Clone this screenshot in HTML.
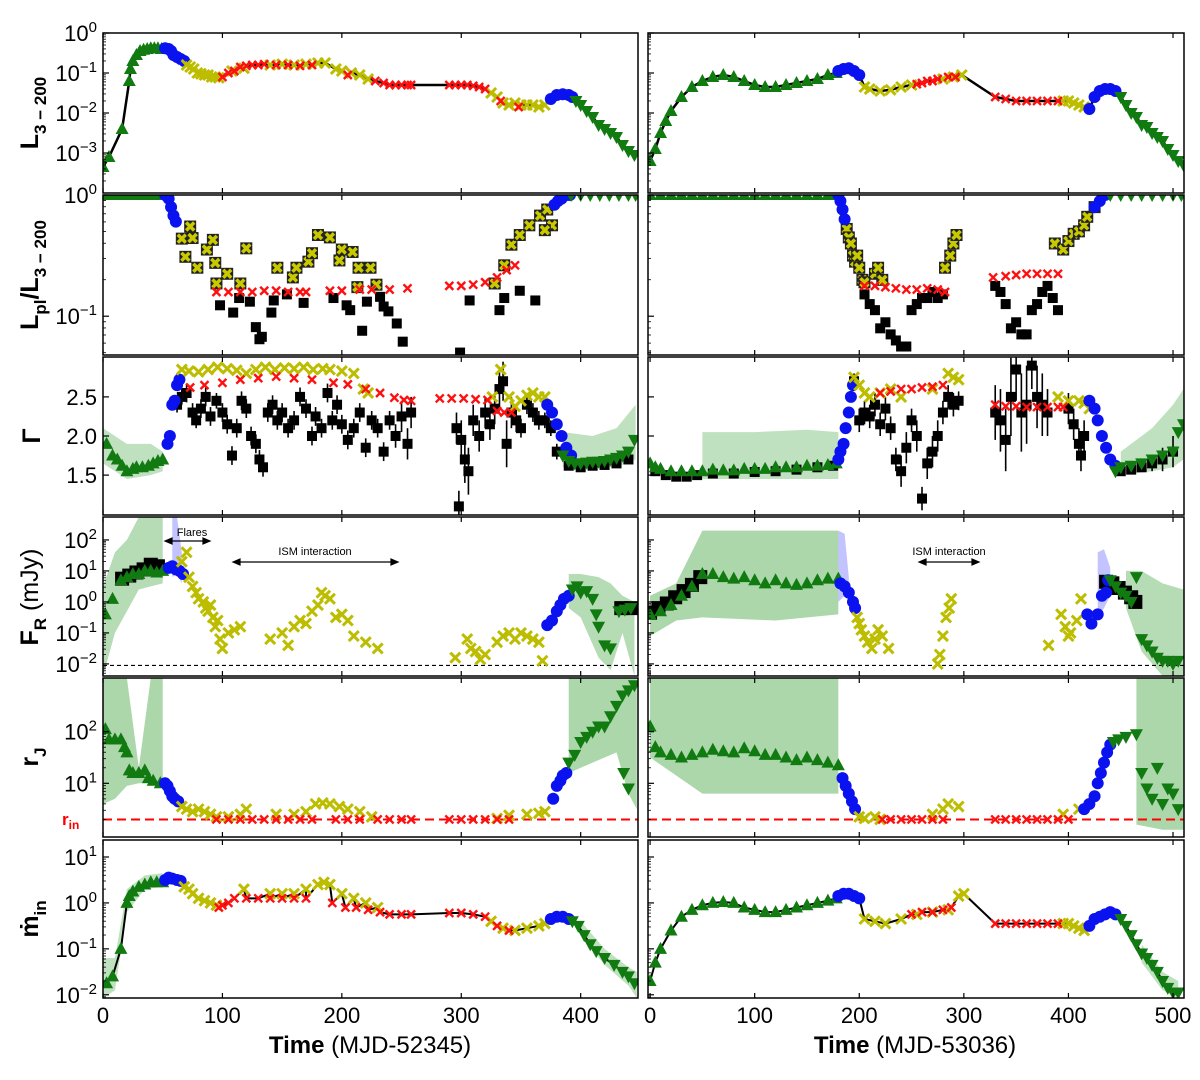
<!DOCTYPE html>
<html><head><meta charset="utf-8"><style>
html,body{margin:0;padding:0;background:#fff}
svg{display:block;font-family:"Liberation Sans",sans-serif}
</style></head><body>
<svg id="fig" width="1200" height="1080" viewBox="0 0 1200 1080" xmlns="http://www.w3.org/2000/svg"></svg>
<script>
// ===== DATA (t in days, log panels store log10 values) =====
const L1g=[[0,-3.35],[5,-3.1],[16,-2.4],[22,-1.2],[23,-0.9],[25,-0.7],[28,-0.55],[31,-0.45],[34,-0.42],[37,-0.4],[40,-0.38],[43,-0.38],[46,-0.38],[49,-0.4]];
const L1b=[[52,-0.38],[55,-0.4],[57,-0.45],[59,-0.55],[62,-0.6],[65,-0.65],[68,-0.7]];
const L1y=[[70,-0.8],[73,-0.85],[76,-0.9],[79,-1.0],[82,-1.02],[85,-1.05],[88,-1.05],[91,-1.1],[94,-1.1],[97,-1.12],[108,-0.95],[118,-0.88],[140,-0.8],[150,-0.78],[160,-0.8],[170,-0.78],[180,-0.75],[186,-0.75],[195,-0.9],[200,-0.95],[208,-1.0],[215,-1.05],[222,-1.15],[325,-1.5],[330,-1.6],[335,-1.75],[340,-1.8],[345,-1.75],[350,-1.8],[355,-1.8],[360,-1.8],[365,-1.85],[370,-1.8]];
const L1r=[[100,-1.1],[105,-1.0],[110,-0.95],[115,-0.85],[120,-0.82],[125,-0.8],[130,-0.8],[135,-0.78],[145,-0.8],[155,-0.8],[165,-0.82],[175,-0.8],[205,-1.05],[228,-1.2],[235,-1.25],[240,-1.3],[245,-1.3],[250,-1.3],[255,-1.3],[258,-1.3],[290,-1.3],[295,-1.3],[300,-1.3],[305,-1.3],[310,-1.32],[315,-1.35],[320,-1.4],[333,-1.7],[348,-1.85]];
const L1b2=[[375,-1.65],[380,-1.55],[385,-1.53],[390,-1.55],[393,-1.6]];
const L1d=[[396,-1.7],[400,-1.8],[405,-1.95],[410,-2.1],[415,-2.3],[420,-2.4],[425,-2.5],[430,-2.6],[435,-2.8],[440,-2.95],[445,-3.05]];

const L2g=[[2,0],[8,0],[14,0],[20,0],[26,0],[32,0],[38,0],[44,0],[50,0]];
const L2b=[[52,0],[55,-0.03],[57,-0.1],[59,-0.17],[61,-0.22]];
const L2y=[[73,-0.26],[66,-0.36],[75,-0.355],[69,-0.51],[79,-0.6],[87,-0.45],[92,-0.37],[94,-0.56],[95,-0.73],[104,-0.65],[115,-0.73],[120,-0.44],[146,-0.6],[159,-0.68],[162,-0.6],[172,-0.55],[175,-0.48],[180,-0.33],[190,-0.35],[198,-0.54],[200,-0.45],[209,-0.47],[214,-0.6],[224,-0.6],[213,-0.76],[229,-0.74],[328,-0.73],[336,-0.58],[342,-0.41],[349,-0.33],[357,-0.25],[366,-0.17],[372,-0.12],[376,-0.25],[370,-0.29]];
const L2k=[[98,-0.91],[109,-0.97],[114,-0.85],[123,-0.88],[128,-1.09],[133,-1.17],[131,-1.19],[141,-0.97],[143,-0.87],[154,-0.82],[168,-0.89],[193,-0.85],[204,-0.91],[207,-0.95],[217,-1.12],[221,-0.88],[232,-0.84],[235,-0.92],[239,-0.96],[246,-1.06],[251,-1.21],[299,-1.3],[307,-0.87],[332,-0.95],[336,-0.85],[349,-0.79],[362,-0.87]];
const L2r=[[95,-0.8],[105,-0.8],[115,-0.8],[125,-0.8],[135,-0.79],[145,-0.79],[155,-0.8],[165,-0.8],[170,-0.8],[190,-0.79],[200,-0.79],[215,-0.78],[225,-0.78],[240,-0.78],[255,-0.77],[290,-0.75],[300,-0.75],[310,-0.74],[320,-0.72],[330,-0.68],[338,-0.62],[345,-0.58]];
const L2b2=[[378,-0.08],[381,-0.05],[384,-0.03],[388,0],[391,0]];
const L2d=[[392,0],[400,0],[408,0],[416,0],[424,0],[432,0],[440,0],[446,0]];

const L3g=[[3,1.9],[8,1.75],[12,1.7],[16,1.62],[20,1.55],[25,1.58],[28,1.6],[33,1.6],[38,1.62],[42,1.65],[46,1.68],[50,1.7]];
const L3b=[[54,1.9],[56,2.0],[58,2.4],[60,2.45],[62,2.65],[64,2.72]];
const L3y=[[66,2.85],[72,2.83],[80,2.82],[88,2.85],[96,2.88],[104,2.86],[112,2.84],[120,2.8],[128,2.85],[136,2.88],[144,2.85],[152,2.87],[160,2.86],[168,2.88],[176,2.85],[184,2.86],[190,2.85],[200,2.83],[210,2.8],[218,2.6],[222,2.55],[326,2.5],[333,2.85],[340,2.5],[345,2.38],[350,2.45],[355,2.52],[360,2.55],[365,2.5],[370,2.5]];
const L3r=[[73,2.62],[85,2.65],[100,2.68],[115,2.72],[130,2.74],[145,2.76],[160,2.74],[175,2.72],[193,2.68],[205,2.66],[220,2.6],[232,2.55],[244,2.49],[252,2.46],[258,2.45],[282,2.48],[292,2.48],[302,2.48],[312,2.47],[322,2.46],[330,2.32],[336,2.3],[342,2.3]];
const L3k=[[62,2.4,0.1],[66,2.5,0.1],[70,2.55,0.12],[75,2.3,0.12],[78,2.2,0.1],[82,2.35,0.12],[86,2.5,0.12],[90,2.25,0.12],[95,2.45,0.1],[100,2.3,0.12],[104,2.15,0.12],[108,1.75,0.12],[112,2.1,0.12],[116,2.45,0.12],[120,2.35,0.12],[124,2.0,0.12],[128,1.9,0.12],[131,1.7,0.12],[134,1.6,0.12],[138,2.3,0.12],[142,2.4,0.12],[146,2.2,0.12],[150,2.3,0.12],[155,2.1,0.12],[160,2.2,0.12],[165,2.5,0.12],[170,2.35,0.12],[175,2.0,0.12],[178,2.25,0.12],[183,2.1,0.12],[188,2.55,0.12],[192,2.2,0.12],[196,2.4,0.12],[200,2.15,0.12],[205,1.95,0.12],[210,2.1,0.12],[215,2.3,0.12],[220,1.85,0.12],[225,2.2,0.12],[230,2.1,0.12],[235,1.8,0.12],[240,2.2,0.12],[245,2.0,0.15],[250,2.25,0.2],[255,1.9,0.2],[258,2.3,0.2],[296,2.1,0.2],[298,1.1,0.2],[300,1.95,0.25],[303,1.7,0.3],[306,1.55,0.3],[310,2.2,0.2],[315,2.0,0.2],[320,2.3,0.2],[324,2.15,0.2],[328,2.35,0.2],[332,2.6,0.25],[335,2.7,0.25],[338,1.9,0.3],[342,2.3,0.2],[346,2.2,0.15],[350,2.1,0.12],[355,2.4,0.12],[360,2.3,0.12],[365,2.2,0.12],[370,2.2,0.1],[375,2.1,0.1],[380,1.8,0.1],[390,1.62,0.05],[400,1.6,0.05],[410,1.62,0.05],[420,1.63,0.05],[430,1.65,0.05],[440,1.7,0.05]];
const L3b2=[[372,2.4],[376,2.3],[380,2.15],[384,2.0],[388,1.85],[392,1.75]];
const L3d=[[385,1.75],[390,1.68],[395,1.65],[400,1.65],[405,1.66],[410,1.67],[415,1.67],[420,1.68],[425,1.7],[430,1.72],[435,1.75],[440,1.8],[445,1.95]];

const L4g=[[2,-0.4],[8,0.1],[15,0.7],[20,0.8],[25,0.9],[30,0.9],[35,1.0],[40,1.0],[45,0.95],[50,1.0]];
const L4k=[[16,0.75],[22,0.85],[28,0.95],[34,1.05],[40,1.2],[46,1.15]];
const L4b=[[55,1.1],[58,1.15],[61,1.05],[64,1.0],[67,0.9]];
const L4y=[[66,1.3],[70,1.6],[72,0.8],[75,0.5],[78,0.3],[80,0.1],[84,0.0],[86,-0.2],[88,-0.3],[90,-0.1],[92,-0.5],[94,-0.8],[96,-0.6],[98,-1.2],[100,-1.5],[105,-1.0],[110,-0.9],[115,-0.8],[140,-1.2],[150,-1.0],[155,-1.4],[160,-0.8],[165,-0.6],[170,-0.7],[175,-0.3],[180,-0.1],[183,0.3],[186,0.2],[190,0.1],[195,-0.5],[200,-0.4],[205,-0.6],[210,-1.1],[220,-1.3],[230,-1.5],[295,-1.8],[305,-1.2],[308,-1.5],[312,-1.6],[316,-1.85],[320,-1.7],[330,-1.3],[335,-1.1],[340,-1.0],[345,-1.2],[350,-1.0],[355,-1.1],[360,-1.2],[365,-1.3],[368,-1.9]];
const L4b2=[[372,-0.75],[376,-0.6],[380,-0.3],[383,-0.1],[386,0.1],[390,0.2]];
const L4k2=[[434,-0.2],[442,-0.2]];
const L4d=[[393,0.4],[397,0.5],[400,0.3],[405,0.35],[410,0.1],[413,-0.4],[415,-0.8],[420,-1.4],[425,-1.5],[432,-0.3],[437,-0.25],[442,-0.2]];

const L5g=[[2,2.05],[5,1.85],[10,1.85],[15,1.85],[18,1.7],[20,1.6],[22,1.25],[25,1.2],[30,1.2],[35,1.25],[38,1.1],[42,1.05],[48,1.0]];
const L5b=[[52,1.0],[54,0.95],[56,0.85],[58,0.75],[60,0.7],[63,0.65]];
const L5y=[[66,0.55],[70,0.5],[75,0.45],[80,0.5],[85,0.45],[90,0.4],[95,0.35],[105,0.35],[115,0.4],[120,0.5],[145,0.4],[160,0.4],[170,0.45],[178,0.6],[184,0.62],[190,0.6],[198,0.55],[205,0.5],[215,0.45],[225,0.35],[330,0.32],[340,0.38],[355,0.4],[365,0.42],[370,0.45]];
const L5r=[[95,0.3],[105,0.3],[115,0.3],[125,0.3],[135,0.3],[145,0.3],[155,0.3],[165,0.3],[175,0.3],[195,0.3],[205,0.3],[215,0.3],[230,0.3],[240,0.3],[250,0.3],[258,0.3],[290,0.3],[300,0.3],[310,0.3],[320,0.3],[330,0.3],[340,0.3]];
const L5b2=[[377,0.7],[380,0.95],[383,1.05],[385,1.15],[388,1.2]];
const L5d=[[390,1.4],[395,1.55],[400,1.8],[405,1.9],[410,2.0],[415,2.1],[420,2.1],[425,2.3],[430,2.5],[435,2.7],[440,2.8],[445,2.9],[436,1.2],[440,0.9]];

const L6g=[[3,-1.75],[8,-1.6],[15,-1.0],[20,0.0],[22,0.15],[25,0.25],[30,0.35],[35,0.4],[40,0.45],[45,0.45],[50,0.45]];
const L6b=[[52,0.5],[55,0.55],[58,0.53],[62,0.5],[65,0.48]];
const L6y=[[68,0.35],[72,0.3],[75,0.2],[80,0.1],[85,0.05],[90,0.0],[95,-0.05],[118,0.3],[140,0.2],[150,0.2],[160,0.2],[170,0.3],[180,0.4],[185,0.45],[190,0.4],[200,0.2],[210,0.1],[220,0.0],[230,-0.1],[325,-0.4],[335,-0.55],[345,-0.6],[355,-0.55],[365,-0.5],[370,-0.45]];
const L6r=[[97,-0.1],[100,-0.05],[105,0.0],[110,0.1],[120,0.1],[130,0.1],[140,0.1],[150,0.1],[160,0.1],[170,0.1],[192,0.0],[203,-0.1],[212,-0.1],[222,-0.15],[232,-0.2],[240,-0.25],[250,-0.25],[258,-0.25],[290,-0.22],[300,-0.22],[310,-0.25],[320,-0.3],[330,-0.5],[340,-0.6]];
const L6b2=[[375,-0.35],[380,-0.3],[385,-0.3],[390,-0.35]];
const L6d=[[393,-0.4],[398,-0.5],[403,-0.7],[408,-0.9],[413,-1.05],[420,-1.2],[428,-1.35],[435,-1.5],[440,-1.6],[445,-1.75]];

const R1g=[[0,-3.2],[5,-2.9],[10,-2.5],[15,-2.2],[20,-1.95],[30,-1.6],[40,-1.35],[50,-1.2],[60,-1.1],[70,-1.05],[80,-1.1],[90,-1.2],[100,-1.3],[110,-1.35],[120,-1.35],[130,-1.3],[140,-1.25],[150,-1.2],[160,-1.15],[170,-1.05],[178,-1.0]];
const R1b=[[180,-0.95],[185,-0.9],[190,-0.88],[195,-0.95],[200,-1.05]];
const R1y=[[205,-1.35],[210,-1.4],[220,-1.45],[230,-1.42],[240,-1.35],[250,-1.3],[280,-1.15],[290,-1.1],[298,-1.05],[395,-1.7],[400,-1.7],[405,-1.75],[410,-1.8],[415,-1.85]];
const R1r=[[255,-1.28],[260,-1.25],[265,-1.2],[270,-1.2],[275,-1.15],[285,-1.1],[292,-1.1],[330,-1.6],[340,-1.65],[350,-1.7],[360,-1.7],[370,-1.7],[380,-1.7],[390,-1.7]];
const R1b2=[[420,-1.9],[425,-1.6],[430,-1.45],[435,-1.4],[440,-1.4],[445,-1.45]];
const R1d=[[450,-1.6],[455,-1.8],[460,-2.0],[465,-2.1],[470,-2.3],[475,-2.35],[480,-2.5],[485,-2.6],[490,-2.7],[495,-2.9],[500,-3.05],[505,-3.2],[510,-3.3]];

const R2g=[[0,0],[10,0],[20,0],[30,0],[40,0],[50,0],[60,0],[70,0],[80,0],[90,0],[100,0],[110,0],[120,0],[130,0],[140,0],[150,0],[160,0],[170,0],[178,0]];
const R2b=[[180,0],[182,-0.05],[184,-0.12],[186,-0.2]];
const R2y=[[188,-0.28],[190,-0.35],[192,-0.4],[194,-0.5],[196,-0.55],[198,-0.5],[200,-0.6],[203,-0.7],[205,-0.72],[215,-0.65],[218,-0.6],[222,-0.7],[282,-0.6],[287,-0.5],[290,-0.4],[293,-0.33],[387,-0.4],[395,-0.45],[400,-0.38],[405,-0.32],[410,-0.3],[415,-0.25],[418,-0.18],[425,-0.1]];
const R2k=[[205,-0.82],[210,-0.9],[215,-0.95],[220,-1.1],[225,-1.05],[230,-1.15],[235,-1.2],[240,-1.25],[245,-1.25],[250,-0.95],[255,-0.9],[260,-0.85],[265,-0.85],[270,-0.8],[275,-0.85],[280,-0.82],[330,-0.75],[335,-0.8],[340,-0.9],[345,-1.1],[350,-1.05],[355,-1.15],[360,-1.15],[365,-0.95],[370,-0.9],[375,-0.8],[380,-0.75],[385,-0.85],[390,-0.95]];
const R2r=[[205,-0.75],[215,-0.75],[225,-0.76],[235,-0.77],[245,-0.78],[255,-0.78],[265,-0.77],[275,-0.78],[282,-0.8],[328,-0.68],[340,-0.67],[350,-0.66],[360,-0.65],[370,-0.65],[380,-0.65],[390,-0.65]];
const R2b2=[[425,-0.1],[430,-0.05],[435,0]];
const R2d=[[440,0],[450,0],[460,0],[470,0],[480,0],[490,0],[500,0],[508,0]];

const R3g=[[0,1.65],[5,1.6],[10,1.58],[20,1.55],[30,1.55],[40,1.55],[50,1.55],[60,1.57],[70,1.56],[80,1.56],[90,1.58],[100,1.58],[110,1.58],[120,1.6],[130,1.6],[140,1.6],[150,1.62],[160,1.62],[170,1.63],[178,1.65]];
const R3k0=[[5,1.55,0.03],[15,1.5,0.03],[25,1.48,0.03],[35,1.48,0.03],[45,1.5,0.03],[60,1.52,0.03],[80,1.52,0.03],[100,1.54,0.03],[120,1.55,0.03],[140,1.57,0.03],[160,1.6,0.03],[175,1.62,0.03]];
const R3b=[[180,1.7],[182,1.8],[185,1.9],[187,2.1],[190,2.3],[192,2.5],[194,2.65]];
const R3y=[[195,2.75],[200,2.65],[205,2.55],[210,2.5],[220,2.55],[230,2.6],[240,2.5],[270,2.6],[285,2.8],[290,2.75],[295,2.72],[390,2.5],[400,2.45],[410,2.45],[415,2.42],[420,2.35]];
const R3r=[[220,2.55],[230,2.57],[240,2.6],[250,2.6],[260,2.62],[270,2.63],[280,2.65],[330,2.4],[340,2.38],[350,2.38],[360,2.37],[370,2.37],[380,2.37],[390,2.37],[395,2.37]];
const R3k=[[195,2.7,0.1],[200,2.2,0.15],[205,2.3,0.15],[210,2.25,0.15],[215,2.4,0.15],[220,2.15,0.15],[225,2.35,0.15],[230,2.1,0.15],[235,1.7,0.15],[240,1.55,0.2],[245,1.85,0.2],[250,2.2,0.15],[255,2.0,0.2],[260,1.2,0.15],[265,1.65,0.2],[270,1.8,0.2],[275,2.0,0.2],[280,2.3,0.15],[285,2.5,0.15],[290,2.4,0.15],[295,2.45,0.12],[330,2.3,0.35],[335,2.2,0.4],[340,1.95,0.4],[345,2.5,0.5],[350,2.85,0.4],[355,2.3,0.5],[360,2.4,0.5],[365,2.9,0.3],[370,2.5,0.4],[375,2.4,0.4],[380,2.3,0.3],[400,2.35,0.2],[405,2.15,0.2],[410,1.9,0.2],[412,1.75,0.2],[415,2.0,0.2],[450,1.55,0.05],[460,1.57,0.05],[470,1.6,0.05],[480,1.65,0.1],[490,1.7,0.15],[500,1.8,0.2]];
const R3b2=[[420,2.45],[425,2.35],[428,2.2],[432,2.0],[436,1.85],[440,1.7],[445,1.62]];
const R3d=[[445,1.55],[450,1.6],[460,1.62],[470,1.65],[480,1.7],[490,1.75],[500,1.8],[505,2.05],[510,2.15]];

const R4g=[[0,-0.4],[10,-0.3],[20,-0.1],[30,0.2],[40,0.5],[50,0.9],[60,0.9],[70,0.8],[80,0.75],[90,0.8],[100,0.7],[110,0.6],[120,0.7],[130,0.6],[140,0.55],[150,0.6],[160,0.7],[170,0.75],[180,0.75]];
const R4k=[[0,-0.35],[8,-0.2],[16,-0.05],[24,0.15],[32,0.35],[40,0.55],[48,0.8]];
const R4b=[[182,0.6],[186,0.5],[190,0.3],[194,0.0],[196,-0.2]];
const R4y=[[198,-0.5],[200,-0.7],[202,-0.9],[205,-1.1],[208,-1.3],[212,-1.5],[215,-1.2],[218,-0.9],[222,-1.1],[228,-1.5],[275,-2.0],[277,-1.7],[280,-1.1],[283,-0.5],[286,-0.2],[288,0.1],[381,-1.4],[393,-0.4],[397,-0.8],[400,-1.1],[402,-1.0],[408,-0.6],[412,0.1]];
const R4b2=[[418,-0.4],[422,-0.7],[428,-0.4],[432,0.2],[436,0.3],[438,0.7]];
const R4k2=[[436,0.65],[442,0.6],[448,0.45],[454,0.3],[460,0.15],[464,0.0]];
const R4d=[[440,0.7],[445,0.5],[450,0.3],[455,0.2],[460,0.0],[465,0.8],[470,-1.2],[475,-1.4],[480,-1.6],[485,-1.8],[490,-1.9],[495,-1.9],[500,-2.0],[505,-1.9]];

const R5g=[[0,2.1],[5,1.7],[10,1.6],[20,1.55],[30,1.5],[40,1.55],[50,1.6],[60,1.65],[70,1.62],[80,1.6],[90,1.68],[100,1.62],[110,1.55],[120,1.55],[130,1.5],[140,1.45],[150,1.5],[160,1.45],[170,1.4],[180,1.35]];
const R5b=[[184,1.1],[187,0.95],[190,0.8],[193,0.65],[196,0.5]];
const R5y=[[200,0.35],[205,0.32],[215,0.35],[220,0.3],[270,0.4],[280,0.5],[285,0.6],[295,0.55],[395,0.4],[410,0.5]];
const R5r=[[222,0.3],[230,0.3],[240,0.3],[250,0.3],[260,0.3],[270,0.3],[280,0.3],[330,0.3],[340,0.3],[350,0.3],[360,0.3],[370,0.3],[380,0.3],[390,0.3],[400,0.3]];
const R5b2=[[415,0.5],[420,0.6],[425,0.75],[428,1.0],[431,1.2],[434,1.4],[437,1.6],[440,1.75]];
const R5d=[[443,1.8],[448,1.85],[455,1.9],[465,1.95],[470,1.2],[475,0.9],[480,0.7],[485,1.3],[490,0.6],[495,0.9],[500,0.8],[505,0.5]];

const R6g=[[0,-1.7],[5,-1.3],[10,-1.0],[20,-0.6],[30,-0.3],[40,-0.15],[50,-0.05],[60,0.0],[70,0.02],[80,0.0],[90,-0.1],[100,-0.15],[110,-0.2],[120,-0.2],[130,-0.15],[140,-0.1],[150,-0.05],[160,0.0],[170,0.05],[178,0.1]];
const R6b=[[180,0.15],[185,0.2],[190,0.2],[195,0.15],[200,0.1]];
const R6y=[[205,-0.35],[215,-0.4],[225,-0.45],[240,-0.35],[255,-0.25],[270,-0.2],[285,-0.15],[295,0.15],[300,0.2],[395,-0.45],[400,-0.45],[405,-0.5],[410,-0.55],[415,-0.6]];
const R6r=[[250,-0.25],[260,-0.2],[270,-0.2],[280,-0.15],[288,-0.1],[330,-0.45],[340,-0.45],[350,-0.45],[360,-0.45],[370,-0.45],[380,-0.45],[390,-0.45]];
const R6b2=[[420,-0.5],[425,-0.35],[430,-0.3],[435,-0.25],[440,-0.2],[445,-0.25]];
const R6d=[[450,-0.35],[455,-0.5],[460,-0.7],[465,-0.9],[470,-1.1],[475,-1.2],[480,-1.35],[485,-1.5],[490,-1.7],[495,-1.85],[500,-1.95],[505,-1.95]];

const bandL4a=[[0,-2.4,0.5],[10,-1.0,1.6],[20,-0.3,2.0],[30,0.4,2.74],[40,0.5,2.74],[50,0.6,2.74]];
const bandL4b=[[390,-0.2,0.9],[400,-0.5,0.9],[415,-1.8,0.8],[425,-2.2,0.6],[435,-1.0,0.2],[445,-2.39,0.0]];
const bandL4c=[[58,0.8,2.74],[62,0.9,2.74],[66,0.6,1.6]];
const bandL5a=[[0,0.6,3.04],[10,0.7,3.04],[20,0.95,3.04],[30,1.0,1.3],[40,1.0,3.04],[50,1.0,3.04]];
const bandL5b=[[390,1.2,3.04],[410,1.4,3.04],[430,1.6,3.04],[440,0.8,3.04],[447,0.5,3.04]];
const bandL3a=[[0,1.65,2.1],[20,1.45,1.9],[40,1.5,1.9],[50,1.55,1.8]];
const bandL3b=[[385,1.6,2.05],[410,1.6,2.0],[430,1.6,2.1],[446,1.7,2.4]];
const bandL6a=[[0,-2.07,-1.2],[10,-1.9,-1.2],[20,-0.2,0.3],[35,0.3,0.6],[50,0.35,0.65]];
const bandL6b=[[400,-0.7,-0.4],[420,-1.35,-1.0],[440,-1.8,-1.4],[447,-2.07,-1.5]];
const bandR3=[[50,1.45,2.05],[100,1.45,2.05],[150,1.45,2.08],[180,1.45,2.05]];
const bandR3b=[[450,1.5,1.8],[480,1.55,2.1],[500,1.6,2.4],[510,1.7,2.6]];
const bandR4a=[[0,-1.1,0.2],[25,-0.6,0.6],[50,-0.5,2.3],[120,-0.6,2.3],[180,-0.4,2.3]];
const bandR4b=[[455,-0.2,1.0],[470,-1.6,1.0],[490,-2.39,0.6],[510,-2.39,0.4]];
const bandR4c=[[180,0.0,2.3],[186,0.2,2.2],[190,0.4,0.8]];
const bandR4d=[[428,-0.5,1.6],[434,-0.2,1.7],[440,0.2,1.1]];
const bandR5a=[[0,1.5,3.04],[50,0.8,3.04],[120,0.8,3.04],[180,0.8,3.04]];
const bandR5b=[[465,0.2,3.04],[490,0.1,3.04],[510,0.1,3.04]];
const bandR6=[[470,-1.3,-0.9],[490,-1.9,-1.5],[505,-2.07,-1.7]];

const xTicks=[0,100,200,300,400,500];
const rows=[
 {top:33,bot:193,d0:-4,d1:0,log:true},
 {top:195,bot:355,d0:-1.32,d1:0,log:true},
 {top:357,bot:515,d0:0.99,d1:3.01,log:false},
 {top:517,bot:676,d0:-2.39,d1:2.74,log:true},
 {top:678,bot:837,d0:-0.04,d1:3.04,log:true},
 {top:840,bot:998,d0:-2.07,d1:1.37,log:true}];
const cols=[{x0:103,x1:638,t0:0,t1:448},{x0:648,x1:1184,t0:-2,t1:510.5}];
const yTickSets=[[0,-1,-2,-3],[0,-1],[1.5,2.0,2.5],[2,1,0,-1,-2],[2,1],[1,0,-1,-2]];

const NS="http://www.w3.org/2000/svg";
const svg=document.getElementById('fig');
function mk(tag,attrs,parent){const e=document.createElementNS(NS,tag);for(const k in attrs)e.setAttribute(k,attrs[k]);(parent||svg).appendChild(e);return e;}
function X(c,t){const C=cols[c];return C.x0+(t-C.t0)*(C.x1-C.x0)/(C.t1-C.t0);}
function Y(r,v){const R=rows[r];return R.bot-(v-R.d0)*(R.bot-R.top)/(R.d1-R.d0);}

const defs=mk('defs',{});
for(let c=0;c<2;c++)for(let r=0;r<6;r++){
 const cp=mk('clipPath',{id:`cp${c}${r}`},defs);
 mk('rect',{x:cols[c].x0,y:rows[r].top,width:cols[c].x1-cols[c].x0,height:rows[r].bot-rows[r].top},cp);
}
const groups={};
function G(c,r){const k=c+'_'+r;if(!groups[k]){const g=mk('g',{'clip-path':`url(#cp${c}${r})`});

groups[k]=g;}return groups[k];}
for(let c=0;c<2;c++)for(let r=0;r<6;r++)G(c,r);

function band(c,r,d,color,op){
 const up=d.map(p=>X(c,p[0])+','+Y(r,p[2])).join(' ');
 const lo=d.slice().reverse().map(p=>X(c,p[0])+','+Y(r,p[1])).join(' ');
 const e=mk('polygon',{points:up+' '+lo,fill:color,'fill-opacity':op},G(c,r));
 
 
}
function line(c,r,sets,w){
 const all=[].concat(...sets).sort((a,b)=>a[0]-b[0]);
 const e=mk('polyline',{points:all.map(p=>X(c,p[0])+','+Y(r,p[1])).join(' '),fill:'none',stroke:'#000','stroke-width':w||2.5},G(c,r));
 
 
}
function marks(c,r,d,type,name){
 const g=G(c,r);
 for(const p of d){
  const x=X(c,p[0]),y=Y(r,p[1]);let e;
  if(type==='tri'){e=mk('polygon',{points:`${x},${y-7} ${x-6.5},${y+5} ${x+6.5},${y+5}`,fill:'#117a11'},g);}
  else if(type==='tridown'){e=mk('polygon',{points:`${x},${y+7} ${x-6.5},${y-5} ${x+6.5},${y-5}`,fill:'#117a11'},g);}
  else if(type==='circ'){e=mk('circle',{cx:x,cy:y,r:6,fill:'#0a12f0'},g);}
  else if(type==='yx'){e=mk('path',{d:`M${x-5},${y-5}L${x+5},${y+5}M${x-5},${y+5}L${x+5},${y-5}`,stroke:'#bdbd00','stroke-width':3},g);}
  else if(type==='rx'){e=mk('path',{d:`M${x-4},${y-4}L${x+4},${y+4}M${x-4},${y+4}L${x+4},${y-4}`,stroke:'#ff1010','stroke-width':2.4},g);}
  else if(type==='sq'){e=mk('rect',{x:x-5,y:y-5,width:10,height:10,fill:'#000'},g);}
  else if(type==='bigsq'){e=mk('rect',{x:x-7,y:y-7,width:14,height:14,fill:'#000'},g);}
  else if(type==='box'){e=mk('g',{},g);mk('rect',{x:x-6,y:y-6,width:12,height:12,fill:'#222'},e);
   mk('path',{d:`M${x-4},${y-4}L${x+4},${y+4}M${x-4},${y+4}L${x+4},${y-4}`,stroke:'#c9c900','stroke-width':3.5},e);}
  else if(type==='sqerr'){e=mk('g',{},g);const e1=Y(r,p[1]-p[2]),e2=Y(r,p[1]+p[2]);
   mk('line',{x1:x,y1:e1,x2:x,y2:e2,stroke:'#000','stroke-width':1.6},e);
   mk('rect',{x:x-5,y:y-5,width:10,height:10,fill:'#000'},e);}
  
  
 }
}
const G_L='#2e9b2e', G_B='#6a6aff';
band(0,3,bandL4a,G_L,0.35);band(0,3,bandL4b,G_L,0.35);band(0,3,bandL4c,G_B,0.4);
band(0,4,bandL5a,G_L,0.4);band(0,4,bandL5b,G_L,0.4);
band(0,2,bandL3a,G_L,0.3);band(0,2,bandL3b,G_L,0.3);
band(0,5,bandL6a,G_L,0.3);band(0,5,bandL6b,G_L,0.3);
band(1,2,bandR3,G_L,0.3);band(1,2,bandR3b,G_L,0.3);
band(1,3,bandR4a,G_L,0.4);band(1,3,bandR4b,G_L,0.35);band(1,3,bandR4c,G_B,0.4);band(1,3,bandR4d,G_B,0.4);
band(1,4,bandR5a,G_L,0.4);band(1,4,bandR5b,G_L,0.4);
band(1,5,bandR6,G_L,0.3);

line(0,0,[L1g,L1b,L1y,L1r,L1b2,L1d]);
line(1,0,[R1g,R1b,R1y,R1r,R1b2,R1d]);
line(0,5,[L6g,L6b,L6y,L6r,L6b2,L6d],2);
line(1,5,[R6g,R6b,R6y,R6r,R6b2,R6d],2);
for(let c=0;c<2;c++){
 let e=mk('line',{x1:cols[c].x0,x2:cols[c].x1,y1:Y(3,-2.05),y2:Y(3,-2.05),stroke:'#000','stroke-width':1.2,'stroke-dasharray':'4,3'},G(c,3));
 
 
 e=mk('line',{x1:cols[c].x0,x2:cols[c].x1,y1:Y(4,0.3),y2:Y(4,0.3),stroke:'#ff0000','stroke-width':2,'stroke-dasharray':'9,5'},G(c,4));
 
 
}
const S=[
 [0,0,L1g,'tri'],[0,0,L1b,'circ'],[0,0,L1y,'yx'],[0,0,L1r,'rx'],[0,0,L1b2,'circ'],[0,0,L1d,'tridown'],
 [0,1,L2g,'tri'],[0,1,L2k,'sq'],[0,1,L2y,'box'],[0,1,L2r,'rx'],[0,1,L2b,'circ'],[0,1,L2b2,'circ'],[0,1,L2d,'tridown'],
 [0,2,L3k,'sqerr'],[0,2,L3g,'tri'],[0,2,L3b,'circ'],[0,2,L3y,'yx'],[0,2,L3r,'rx'],[0,2,L3b2,'circ'],[0,2,L3d,'tridown'],
 [0,3,L4k,'bigsq'],[0,3,L4k2,'bigsq'],[0,3,L4g,'tri'],[0,3,L4b,'circ'],[0,3,L4y,'yx'],[0,3,L4b2,'circ'],[0,3,L4d,'tridown'],
 [0,4,L5g,'tri'],[0,4,L5b,'circ'],[0,4,L5y,'yx'],[0,4,L5r,'rx'],[0,4,L5b2,'circ'],[0,4,L5d,'tridown'],
 [0,5,L6g,'tri'],[0,5,L6b,'circ'],[0,5,L6y,'yx'],[0,5,L6r,'rx'],[0,5,L6b2,'circ'],[0,5,L6d,'tridown'],
 [1,0,R1g,'tri'],[1,0,R1b,'circ'],[1,0,R1y,'yx'],[1,0,R1r,'rx'],[1,0,R1b2,'circ'],[1,0,R1d,'tridown'],
 [1,1,R2g,'tri'],[1,1,R2k,'sq'],[1,1,R2y,'box'],[1,1,R2r,'rx'],[1,1,R2b,'circ'],[1,1,R2b2,'circ'],[1,1,R2d,'tridown'],
 [1,2,R3k0,'sqerr'],[1,2,R3k,'sqerr'],[1,2,R3g,'tri'],[1,2,R3b,'circ'],[1,2,R3y,'yx'],[1,2,R3r,'rx'],[1,2,R3b2,'circ'],[1,2,R3d,'tridown'],
 [1,3,R4k,'bigsq'],[1,3,R4k2,'bigsq'],[1,3,R4g,'tri'],[1,3,R4b,'circ'],[1,3,R4y,'yx'],[1,3,R4b2,'circ'],[1,3,R4d,'tridown'],
 [1,4,R5g,'tri'],[1,4,R5b,'circ'],[1,4,R5y,'yx'],[1,4,R5r,'rx'],[1,4,R5b2,'circ'],[1,4,R5d,'tridown'],
 [1,5,R6g,'tri'],[1,5,R6b,'circ'],[1,5,R6y,'yx'],[1,5,R6r,'rx'],[1,5,R6b2,'circ'],[1,5,R6d,'tridown']];
const nm={tri:'rising-state-point',tridown:'decay-state-point',circ:'transition-point',yx:'soft-state-point',rx:'soft-state-point-alt',sq:'powerlaw-point',bigsq:'radio-data-point',box:'powerlaw-fraction-point',sqerr:'photon-index-point'};
for(const s of S)marks(s[0],s[1],s[2],s[3],nm[s[3]]);

function supText(x,y,base,exp,anchor,name){
 const t=mk('text',{x:x,y:y,'font-size':22,'text-anchor':anchor||'end',fill:'#000'});
 
 
 const a=mk('tspan',{},t);a.textContent=base;
 const b=mk('tspan',{dy:-9,'font-size':15},t);b.textContent=exp;
 return t;
}
for(let c=0;c<2;c++){
 for(let r=0;r<6;r++){
  const R=rows[r],C=cols[c];
  const fr=mk('rect',{x:C.x0,y:R.top,width:C.x1-C.x0,height:R.bot-R.top,fill:'none',stroke:'#000','stroke-width':1.5});
  
  
  for(const t of xTicks){if(t>C.t1)continue;const x=X(c,t);
   mk('line',{x1:x,x2:x,y1:R.bot,y2:R.bot-5,stroke:'#000','stroke-width':1.2});
   mk('line',{x1:x,x2:x,y1:R.top,y2:R.top+5,stroke:'#000','stroke-width':1.2});}
  for(const v of yTickSets[r]){const y=Y(r,v);
   mk('line',{x1:C.x0,x2:C.x0+6,y1:y,y2:y,stroke:'#000','stroke-width':1.2});
   if(R.log){for(let k=2;k<10;k++){const yy=Y(r,v-1+Math.log10(k));if(yy>R.top&&yy<R.bot)mk('line',{x1:C.x0,x2:C.x0+3,y1:yy,y2:yy,stroke:'#000','stroke-width':0.8});}}
   if(c===0){
    if(R.log)supText(97,y+8,'10',v===0?'0':(v<0?'−'+(-v):String(v)),'end','y-tick-label');
    else{const t=mk('text',{x:97,y:y+8,'font-size':22,'text-anchor':'end'});t.textContent=v.toFixed(1);
     
     }
   }
  }
 }
 for(const t of xTicks){if(t>cols[c].t1)continue;const tx=mk('text',{x:X(c,t),y:1023,'font-size':22,'text-anchor':'middle'});tx.textContent=t;
  
  }
}
</script>
<script>
(function(){
 const s=document.getElementById('fig');
 s.insertAdjacentHTML('beforeend',`
 <g><text x="370" y="1053" font-size="24" text-anchor="middle"><tspan font-weight="bold">Time</tspan>  (MJD-52345)</text></g>
 <g><text x="915" y="1053" font-size="24" text-anchor="middle"><tspan font-weight="bold">Time</tspan>  (MJD-53036)</text></g>
 <text transform="translate(38,113) rotate(-90)" font-size="25" font-weight="bold" text-anchor="middle">L<tspan font-size="17" dy="8">3 − 200</tspan></text>
 <text transform="translate(38,275) rotate(-90)" font-size="25" font-weight="bold" text-anchor="middle">L<tspan font-size="17" dy="8">pl</tspan><tspan dy="-8">/L</tspan><tspan font-size="17" dy="8">3 − 200</tspan></text>
 <text transform="translate(40,436) rotate(-90)" font-size="25" font-weight="bold" text-anchor="middle">Γ</text>
 <text transform="translate(38,597) rotate(-90)" font-size="25" text-anchor="middle"><tspan font-weight="bold">F</tspan><tspan font-weight="bold" font-size="17" dy="8">R</tspan><tspan dy="-8"> (mJy)</tspan></text>
 <text transform="translate(38,757) rotate(-90)" font-size="25" font-weight="bold" text-anchor="middle">r<tspan font-size="17" dy="8">J</tspan></text>
 <text transform="translate(38,919) rotate(-90)" font-size="25" font-weight="bold" text-anchor="middle">ṁ<tspan font-size="17" dy="8">in</tspan></text>
 <text x="62" y="825" font-size="17" font-weight="bold" fill="#ff0000">r<tspan font-size="12" dy="4">in</tspan></text>
 <text x="192" y="536" font-size="11" text-anchor="middle">Flares</text>
 <g stroke="#000" stroke-width="1.2" fill="#000"><line x1="168" y1="541" x2="207" y2="541"/><polygon points="165,541 172,538 172,544"/><polygon points="210,541 203,538 203,544"/></g>
 <text x="315" y="555" font-size="11" text-anchor="middle">ISM interaction</text>
 <g stroke="#000" stroke-width="1.2" fill="#000"><line x1="236" y1="562" x2="395" y2="562"/><polygon points="233,562 240,559 240,565"/><polygon points="398,562 391,559 391,565"/></g>
 <text x="949" y="555" font-size="11" text-anchor="middle">ISM interaction</text>
 <g stroke="#000" stroke-width="1.2" fill="#000"><line x1="922" y1="562" x2="976" y2="562"/><polygon points="919,562 926,559 926,565"/><polygon points="979,562 972,559 972,565"/></g>
 `);
})();
</script>
</body></html>
